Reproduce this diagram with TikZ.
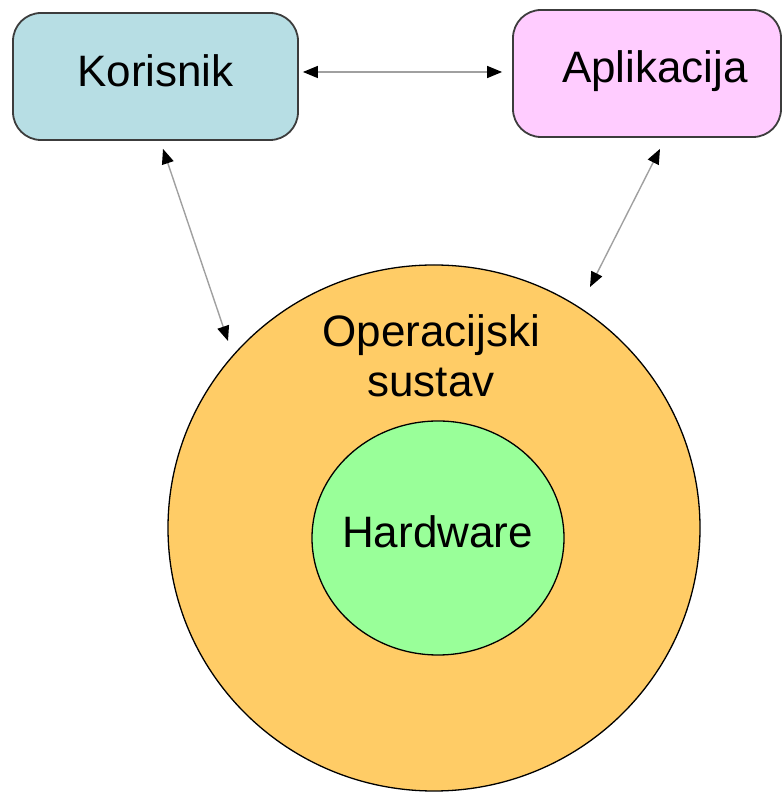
\documentclass[tikz,border=0pt]{standalone}
\usepackage{fontspec}
\setmainfont{Liberation Sans}
\usetikzlibrary{arrows.meta,shapes.geometric}
\definecolor{korfill}{RGB}{183,222,228}
\definecolor{aplfill}{RGB}{255,204,255}
\definecolor{osfill}{RGB}{255,204,102}
\definecolor{hwfill}{RGB}{153,255,153}
\definecolor{boxline}{RGB}{60,60,60}
\definecolor{connline}{RGB}{160,160,160}
\tikzset{
  boxnode/.style={draw=boxline, line width=1.8pt, rounded corners=28pt, inner sep=0pt},
  ringnode/.style={ellipse, draw=black, line width=1.3pt, inner sep=0pt},
  txt/.style={anchor=base, inner sep=0pt, font=\fontsize{44}{50}\selectfont},
  conn/.style={draw=connline, line width=1.4pt, {Triangle[length=15pt,width=12pt,color=black]}-{Triangle[length=15pt,width=12pt,color=black]}}
}
\begin{document}
\begin{tikzpicture}[x=1pt,y=1pt]
\useasboundingbox (0,0) rectangle (782,792);
% boxes
\node[boxnode, fill=korfill, minimum width=285pt, minimum height=127pt] (kor) at (155.5,715.5) {};
\node[boxnode, fill=aplfill, minimum width=268pt, minimum height=127pt] (apl) at (647,718.5) {};
% circles
\node[ringnode, fill=osfill, minimum width=532pt, minimum height=526pt] (os) at (434,264) {};
\node[ringnode, fill=hwfill, minimum width=252pt, minimum height=234pt] (hw) at (438,254) {};
% texts
\node[txt] (kortxt) at (155.5,705) {Korisnik};
\node[txt] (apltxt) at (655,709) {Aplikacija};
\node[txt] (ostxta) at (431.5,445) {Operacijski};
\node[txt] (ostxtb) at (431,395) {sustav};
\node[txt] (hwtxt) at (437.5,244) {Hardware};
% connectors
\draw[conn] ([shift={(4,4.5)}]kor.east) -- ([shift={(-10,1.5)}]apl.west);
\draw[conn] ([shift={(7.5,-8)}]kor.south) -- ([shift={(-206,187)}]os.center);
\draw[conn] ([shift={(13,-11)}]apl.south) -- ([shift={(156,241)}]os.center);
\end{tikzpicture}
\end{document}
